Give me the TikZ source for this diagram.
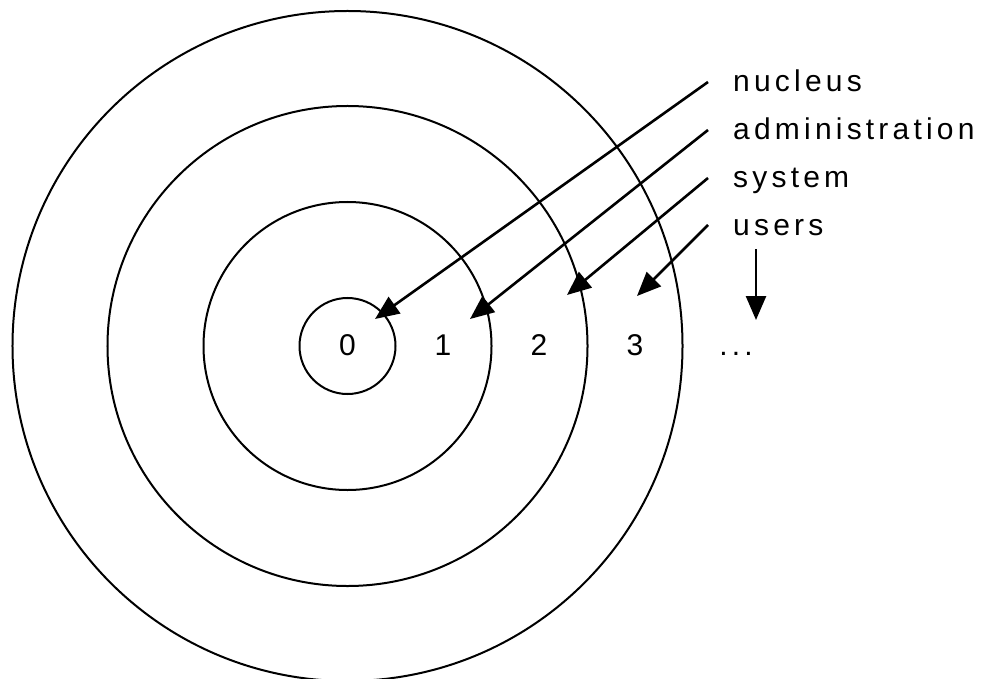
\documentclass[tikz,border=0pt]{standalone}
\usepackage{fontspec}
\setmainfont{Liberation Sans}[LetterSpace=14]
\usetikzlibrary{arrows.meta}

\begin{document}
\begin{tikzpicture}[
  x=1bp,y=-1bp,
  ring/.style={draw=black,line width=2bp},
  layer/.style={inner sep=0pt,text height=20bp,text depth=0pt,anchor=base west,
    font=\fontsize{30bp}{35bp}\selectfont},
  level/.style={inner sep=0pt,anchor=base,font=\fontsize{30bp}{35bp}\selectfont},
  arrow/.style={-{Triangle[length=24bp,width=20bp]},line width=2.6bp,draw=black}
]
  \useasboundingbox (0,0) rectangle (987,679);

  % rings round the centre
  \coordinate (centre) at (347.5,346);
  \draw[ring] (centre) circle[radius=48bp];
  \draw[ring] (centre) circle[radius=144bp];
  \draw[ring] (centre) circle[radius=240bp];
  \draw[ring] (centre) circle[radius=335bp];

  \node[level] (lvl0) at (347.5,355) {0};
  \node[level] (lvl1) at (443,355) {1};
  \node[level] (lvl2) at (539,355) {2};
  \node[level] (lvl3) at (635,355) {3};
  \node[level] (dots) at (736,355) {...};

  \node[layer] (nucleus) at (733,92) {nucleus};
  \node[layer] (admin) at (733,140) {administration};
  \node[layer] (system) at (733,188) {system};
  \node[layer] (users) at (733,235) {users};

  \coordinate (tip0) at (375,319);
  \coordinate (tip1) at (470,319);
  \coordinate (tip2) at (567,295);
  \coordinate (tip3) at (637,296);
  \coordinate (more) at (756,249);
  \coordinate (tipmore) at (756,320);

  \draw[arrow] ([xshift=-25bp]nucleus.west) -- (tip0);
  \draw[arrow] ([xshift=-25bp]admin.west) -- (tip1);
  \draw[arrow] ([xshift=-25bp]system.west) -- (tip2);
  \draw[arrow] ([xshift=-25bp]users.west) -- (tip3);
  \draw[arrow] (more) -- (tipmore);
\end{tikzpicture}
\end{document}
